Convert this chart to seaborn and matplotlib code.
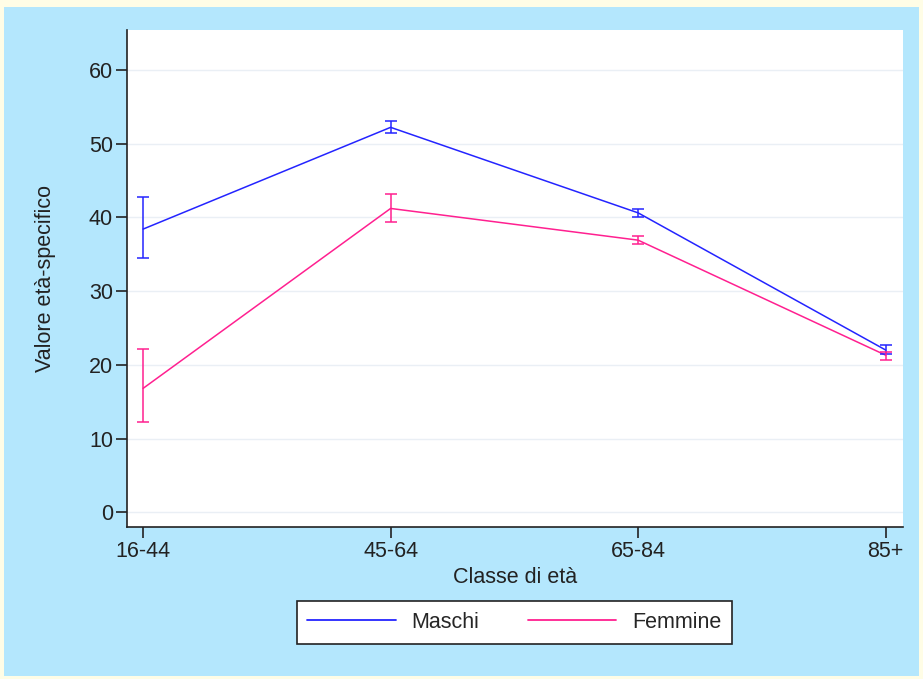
import numpy as np
import pandas as pd
import matplotlib
matplotlib.use("Agg")
import matplotlib.pyplot as plt
import seaborn as sns
from matplotlib.patches import Rectangle
from matplotlib.lines import Line2D

# dati
classi = ["16-44", "45-64", "65-84", "85+"]
maschi = [38.4, 52.2, 40.6, 22.0]
maschi_low = [34.5, 51.4, 40.1, 21.4]
maschi_high = [42.7, 53.1, 41.1, 22.7]
femmine = [16.8, 41.2, 36.9, 21.3]
femmine_low = [12.3, 39.3, 36.4, 20.6]
femmine_high = [22.1, 43.1, 37.4, 21.8]

blu = "#2424ff"
rosa = "#ff2090"
fs = 15.5

df = pd.DataFrame({
    "classe": list(range(len(classi))) * 2,
    "valore": maschi + femmine,
    "sesso": ["Maschi"] * 4 + ["Femmine"] * 4,
})

sns.set_style("white")
plt.rcParams["font.family"] = ["Liberation Sans", "DejaVu Sans"]

fig = plt.figure(figsize=(9.23, 6.79), dpi=100, facecolor="#fffde6")
fig.patches.append(Rectangle((4 / 923, 3 / 679), 915 / 923, 669 / 679,
                             transform=fig.transFigure, facecolor="#b4e7fd",
                             edgecolor="none", zorder=-10))
ax = fig.add_axes([127 / 923, 1 - 527 / 679, 776 / 923, 497 / 679])
ax.set_facecolor("white")

sns.lineplot(data=df, x="classe", y="valore", hue="sesso",
             palette={"Maschi": blu, "Femmine": rosa}, linewidth=1.1,
             ax=ax, legend=False)

x = np.arange(len(classi))
for mid, lo, hi, c in [(maschi, maschi_low, maschi_high, blu),
                       (femmine, femmine_low, femmine_high, rosa)]:
    mid = np.array(mid)
    ax.errorbar(x, mid, yerr=[mid - np.array(lo), np.array(hi) - mid],
                fmt="none", ecolor=c, elinewidth=1.1, capsize=4, capthick=1.1)

ax.set_xlim(-0.065, 3.07)
ax.set_ylim(-2.0, 65.4)
ax.set_xticks(x)
ax.set_xticklabels(classi)
ax.set_yticks(range(0, 61, 10))
ax.yaxis.grid(True, color="#eaeff5", linewidth=1)
ax.set_axisbelow(True)
for s in ["top", "right"]:
    ax.spines[s].set_visible(False)
for s in ["left", "bottom"]:
    ax.spines[s].set_color("#222222")
    ax.spines[s].set_linewidth(1.2)
ax.tick_params(axis="both", direction="out", length=8, width=1.2,
               color="#222222", labelsize=fs, labelcolor="#222222", pad=2,
               left=True, bottom=True)
ax.set_xlabel("Classe di età", fontsize=fs, color="#222222", labelpad=4)
ax.set_ylabel("Valore età-specifico", fontsize=fs, color="#222222", labelpad=24)

handles = [Line2D([], [], color=blu, linewidth=1.3),
           Line2D([], [], color=rosa, linewidth=1.3)]
leg = fig.legend(handles, ["Maschi", "Femmine"], loc="center",
                 bbox_to_anchor=(514.5 / 923, 1 - 622.5 / 679), ncol=2,
                 fontsize=fs, frameon=True, fancybox=False, shadow=False,
                 handlelength=4.1, columnspacing=2.25, handletextpad=0.75,
                 borderpad=0.5, edgecolor="#222222", framealpha=1)
leg.get_frame().set_linewidth(1.2)
leg.get_frame().set_facecolor("white")

fig.savefig("out.png", dpi=100, facecolor=fig.get_facecolor())
